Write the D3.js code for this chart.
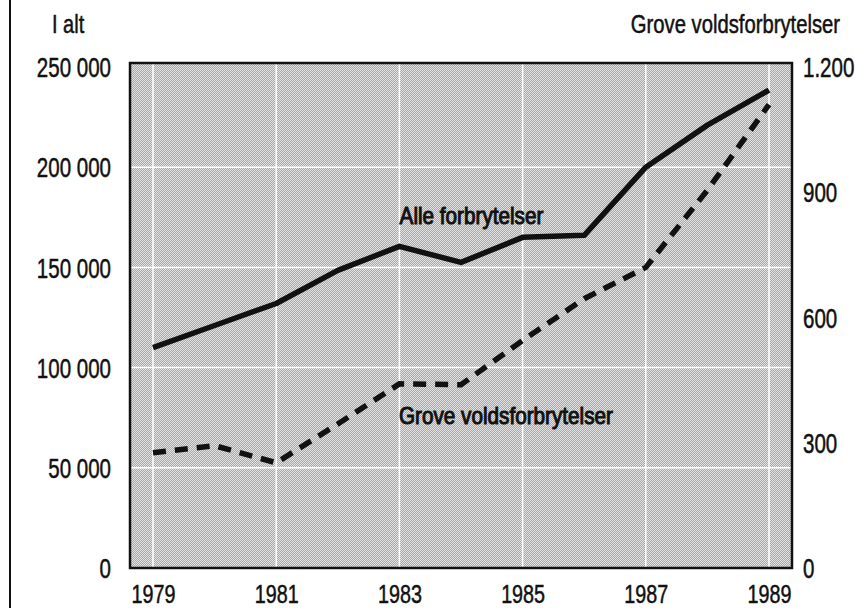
<!DOCTYPE html>
<html>
<head>
<meta charset="utf-8">
<script src="https://cdn.jsdelivr.net/npm/d3@7"></script>
<style>
	body { margin: 0; background: #fff; }
	text { font-family: "Liberation Sans", Arial, sans-serif; fill: #111; stroke: #111; stroke-width: 0.5px; }
	text.inner { stroke-width: 1px; }
</style>
</head>
<body>
<div id="plot"></div>
<script>
// data
var years = [1979, 1980, 1981, 1982, 1983, 1984, 1985, 1986, 1987, 1988, 1989];
var alle = [110000, 121000, 132000, 148500, 160500, 152500, 165000, 166000, 200000, 221000, 238500];
var grove = [276, 293, 252, 345, 441, 439, 545, 645, 720, 905, 1110];

var yearTicks = [1979, 1981, 1983, 1985, 1987, 1989];
var leftTicks = [0, 50000, 100000, 150000, 200000, 250000];
var leftTickLabels = ["0", "50 000", "100 000", "150 000", "200 000", "250 000"];
var rightTicks = [0, 300, 600, 900, 1200];
var rightTickLabels = ["0", "300", "600", "900", "1.200"];

var W = 856, H = 608;
var margin = { top: 63, right: 64, bottom: 40, left: 130 },
	width = W - margin.left - margin.right, height = H - margin.top - margin.bottom;

var svg = d3.select("#plot")
	.append("svg")
	.attr("width", W)
	.attr("height", H);

//squeeze text horizontally so it looks like the narrow face of the original
function narrow(sel, fs, sq) {
	sel.each(function () {
		var t = d3.select(this);
		var x = +t.attr("x") || 0, y = +t.attr("y") || 0;
		t.attr("x", 0).attr("y", 0)
			.attr("font-size", fs)
			.attr("transform", "translate(" + x + "," + y + ") scale(" + sq + ",1)");
	});
}

//stipple pattern for the plot background
var pat = svg.append("defs").append("pattern")
	.attr("id", "dots")
	.attr("width", 2).attr("height", 2)
	.attr("patternUnits", "userSpaceOnUse");
pat.append("rect").attr("width", 2).attr("height", 2).attr("fill", "#e2e2e2");
pat.append("rect").attr("width", 1).attr("height", 1).attr("fill", "#a8a8a8");
pat.append("rect").attr("x", 1).attr("y", 1).attr("width", 1).attr("height", 1).attr("fill", "#a8a8a8");

//page border line on the left
svg.append("line")
	.attr("x1", 10).attr("x2", 10).attr("y1", 0).attr("y2", H)
	.attr("stroke", "#111").attr("stroke-width", 2);

var g = svg.append("g")
	.attr("transform", "translate(" + margin.left + "," + margin.top + ")");

var xScale = d3.scaleLinear()
	.domain([1979, 1989])
	.range([23, 639]);

var yLeft = d3.scaleLinear()
	.domain([0, 250000])
	.range([height, 4]);

var yRight = d3.scaleLinear()
	.domain([0, 1200])
	.range([height, 4]);

g.append("rect")
	.attr("width", width).attr("height", height)
	.attr("fill", "url(#dots)");

//white grid
g.append("g")
	.selectAll("line")
	.data(yearTicks)
	.enter().append("line")
	.attr("x1", function (d) { return xScale(d); })
	.attr("x2", function (d) { return xScale(d); })
	.attr("y1", 0).attr("y2", height)
	.attr("stroke", "#fff").attr("stroke-width", 1.5);

g.append("g")
	.selectAll("line")
	.data(leftTicks.slice(1, 5))
	.enter().append("line")
	.attr("x1", 0).attr("x2", width)
	.attr("y1", function (d) { return yLeft(d); })
	.attr("y2", function (d) { return yLeft(d); })
	.attr("stroke", "#fff").attr("stroke-width", 1.5);

//frame
g.append("rect")
	.attr("width", width).attr("height", height)
	.attr("fill", "none").attr("stroke", "#111").attr("stroke-width", 2.5);

//axes (labels only)
var leftAxis = g.append("g")
	.call(d3.axisLeft(yLeft).tickValues(leftTicks)
		.tickFormat(function (d, i) { return leftTickLabels[i]; })
		.tickSize(0).tickPadding(19));
leftAxis.select(".domain").remove();
leftAxis.selectAll("text").attr("dy", "0.36em").style("font-family", null).call(narrow, 27, 0.76);

var rightAxis = g.append("g")
	.attr("transform", "translate(" + width + ",0)")
	.call(d3.axisRight(yRight).tickValues(rightTicks)
		.tickFormat(function (d, i) { return rightTickLabels[i]; })
		.tickSize(0).tickPadding(11));
rightAxis.select(".domain").remove();
rightAxis.selectAll("text").attr("dy", "0.36em").style("font-family", null).call(narrow, 27, 0.76);

var bottomAxis = g.append("g")
	.attr("transform", "translate(0," + height + ")")
	.call(d3.axisBottom(xScale).tickValues(yearTicks)
		.tickFormat(d3.format("d"))
		.tickSize(0).tickPadding(17));
bottomAxis.select(".domain").remove();
bottomAxis.selectAll("text").style("font-family", null).call(narrow, 26, 0.76);

//lines
var lineAlle = d3.line()
	.x(function (d, i) { return xScale(years[i]); })
	.y(function (d) { return yLeft(d); });

var lineGrove = d3.line()
	.x(function (d, i) { return xScale(years[i]); })
	.y(function (d) { return yRight(d); });

g.append("path")
	.datum(alle)
	.attr("d", lineAlle)
	.attr("fill", "none").attr("stroke", "#111").attr("stroke-width", 5.5)
	.attr("stroke-linejoin", "round");

g.append("path")
	.datum(grove)
	.attr("d", lineGrove)
	.attr("fill", "none").attr("stroke", "#111").attr("stroke-width", 5.5)
	.attr("stroke-dasharray", "13,9");

//series labels
g.append("text")
	.attr("class", "inner")
	.attr("x", xScale(1984.17)).attr("y", yLeft(171500))
	.attr("text-anchor", "middle")
	.text("Alle forbrytelser")
	.call(narrow, 23, 0.9);

g.append("text")
	.attr("class", "inner")
	.attr("x", xScale(1984.73)).attr("y", yLeft(72000))
	.attr("text-anchor", "middle")
	.text("Grove voldsforbrytelser")
	.call(narrow, 23, 0.9);

//axis titles
svg.append("text")
	.attr("x", 52).attr("y", 33)
	.text("I alt")
	.call(narrow, 25, 0.8);

svg.append("text")
	.attr("x", 840).attr("y", 33)
	.attr("text-anchor", "end")
	.text("Grove voldsforbrytelser")
	.call(narrow, 25, 0.81);
</script>
</body>
</html>
